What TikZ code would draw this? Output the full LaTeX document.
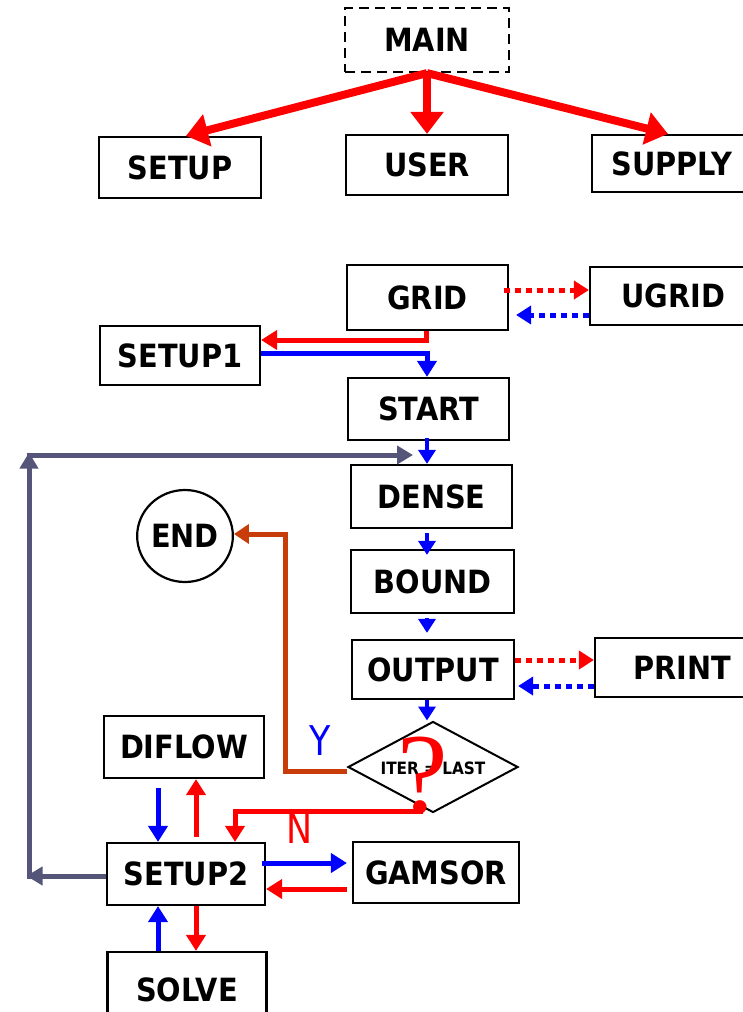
\documentclass[tikz,border=0pt]{standalone}
\usepackage{fontspec}
\usetikzlibrary{arrows.meta,shapes.geometric,calc}
\newfontfamily\boxfam[FakeStretch=0.9]{DejaVu Sans}
\newfontfamily\labfam[FakeStretch=0.85]{DejaVu Sans}
\newfontfamily\qfam{Liberation Serif}
\definecolor{myred}{RGB}{255,0,0}
\definecolor{myblue}{RGB}{0,0,255}
\definecolor{mygrey}{RGB}{85,85,122}
\definecolor{mybrown}{RGB}{200,60,10}
\tikzset{
  box/.style={draw, line width=2.2pt, inner sep=0pt, font=\boxfam\bfseries\fontsize{32}{34}\selectfont},
  bigred/.style={draw=myred, line width=8pt, -{Triangle[length=22pt,width=32pt]}},
  rarrow/.style={draw=myred, line width=5pt, -{Triangle[length=16pt,width=19pt]}},
  barrow/.style={draw=myblue, line width=5pt, -{Triangle[length=16pt,width=19pt]}},
  sbarrow/.style={draw=myblue, line width=4pt, -{Triangle[length=14pt,width=17pt]}},
  rdot/.style={draw=myred, line width=5pt, dash pattern=on 6pt off 5pt, -{Triangle[length=15pt,width=18pt]}},
  bdot/.style={draw=myblue, line width=5pt, dash pattern=on 6pt off 5pt, -{Triangle[length=15pt,width=18pt]}},
  greyline/.style={draw=mygrey, line width=5pt},
  greytip/.style={-{Triangle[length=16pt,width=18pt]}},
  brownline/.style={draw=mybrown, line width=5pt, -{Triangle[length=15pt,width=19pt]}},
  lab/.style={font=\labfam\fontsize{41}{44}\selectfont, inner sep=0pt}
}
\begin{document}
\begin{tikzpicture}[x=1pt,y=-1pt]
\clip (0,0) rectangle (743,1012);
\fill[white] (0,0) rectangle (743,1012);

% top block
\node[box, dash pattern=on 10pt off 6pt, minimum width=164pt, minimum height=64pt] (main) at (427,40) {MAIN};
\node[box, minimum width=162pt, minimum height=61pt] (setup) at (180,167.5) {SETUP};
\node[box, minimum width=162pt, minimum height=60pt] (user) at (427,165) {USER};
\node[box, minimum width=160pt, minimum height=57pt] (supply) at (672,163.5) {SUPPLY};

\draw[bigred] (main.south) -- ([xshift=6pt]setup.north);
\draw[bigred] (main.south) -- (user.north);
\draw[bigred] (main.south) -- ([xshift=-4pt]supply.north);

% grid block
\node[box, minimum width=161pt, minimum height=65pt] (grid) at (427.5,297.5) {GRID};
\node[box, minimum width=166pt, minimum height=58pt] (ugrid) at (673,296) {UGRID};
\node[box, minimum width=160pt, minimum height=59pt] (setup1) at (180,355.5) {SETUP1};
\node[box, minimum width=161pt, minimum height=62pt] (start) at (428.5,409) {START};
\node[box, minimum width=161pt, minimum height=63pt] (dense) at (431.5,496.5) {DENSE};
\node[box, minimum width=163pt, minimum height=63pt] (bound) at (432.5,581.5) {BOUND};
\node[box, minimum width=162pt, minimum height=59pt] (output) at (433,669.5) {OUTPUT};
\node[box, minimum width=174pt, minimum height=59pt] (print) at (682,667.5) {PRINT};
\node[box, ellipse, minimum width=90pt, minimum height=92pt] (end) at (185,536) {END};

\node[draw, line width=2pt, shape=diamond, inner sep=0pt, minimum width=170pt, minimum height=91pt] (decision) at (433,767) {};
\node[font=\boxfam\bfseries\fontsize{17}{19}\selectfont, inner sep=0pt] (itertext) at (433,768) {ITER = LAST};
\node[font=\qfam\fontsize{114}{114}\selectfont, text=myred, anchor=base, inner sep=0pt] (qmark) at (423,812) {?};

\node[box, minimum width=160pt, minimum height=62pt] (diflow) at (184,747) {DIFLOW};
\node[box, minimum width=158pt, minimum height=62pt] (setup2) at (186,874) {SETUP2};
\node[box, minimum width=166pt, minimum height=61pt] (gamsor) at (436,872.5) {GAMSOR};
\node[box, minimum width=159pt, minimum height=76pt] (solve) at (187,990) {SOLVE};

\node[lab, text=myblue] (ylab) at (320,741) {Y};
\node[lab, text=myred] (nlab) at (300,829) {N};

\coordinate (sp) at (427,0);

% GRID / UGRID
\draw[rdot] ([yshift=7.5pt,xshift=-5pt]grid.east) -- ([yshift=6pt]ugrid.west);
\draw[bdot] ([yshift=-19pt]ugrid.west) -- ([yshift=-17.5pt,xshift=7pt]grid.east);

% GRID -> SETUP1 -> START
\draw[rarrow] ([xshift=-1pt]grid.south) |- ([yshift=15.5pt]setup1.east);
\draw[barrow] ([yshift=2.5pt]setup1.east) -| (sp |- start.north);

% spine
\draw[sbarrow] ([yshift=3pt]sp |- start.south) -- (sp |- dense.north);
\draw[sbarrow] ([yshift=-4pt]sp |- dense.south) -- ([yshift=-6pt]sp |- bound.north);
\draw[sbarrow] ([yshift=-4pt]sp |- bound.south) -- ([yshift=6pt]sp |- output.north);
\draw[sbarrow] (sp |- output.south) -- (sp |- decision.north);

% OUTPUT / PRINT
\draw[rdot] ([yshift=9.5pt]output.east) -- ([yshift=7.5pt]print.west);
\draw[bdot] ([yshift=-18.5pt]print.west) -- ([yshift=-16.5pt,xshift=3pt]output.east);

% Y branch to END
\coordinate (bc) at (285,534);
\draw[brownline] ([yshift=-4pt]decision.west) -| (bc) -- ([yshift=2pt]end.east);

% N branch to SETUP2
\coordinate (qd) at (423,811);
\draw[rarrow] (qd) -| ([xshift=49pt]setup2.north);

% DIFLOW
\draw[barrow] ([xshift=-26pt,yshift=-9pt]diflow.south) -- ([xshift=-28pt]setup2.north);
\draw[rarrow] ([xshift=10pt,yshift=5pt]setup2.north) -- ([xshift=12pt]diflow.south);

% SOLVE
\draw[barrow] ([xshift=-29pt]solve.north) -- ([xshift=-28pt]setup2.south);
\draw[rarrow] ([xshift=10pt]setup2.south) -- ([xshift=9pt]solve.north);

% GAMSOR
\draw[barrow] ([yshift=11pt,xshift=-4pt]setup2.east) -- ([yshift=9.5pt,xshift=-5pt]gamsor.west);
\draw[rarrow] ([yshift=-16.5pt,xshift=-5pt]gamsor.west) -- ([yshift=-15pt]setup2.east);

% grey loop
\coordinate (gb) at (29,876);
\coordinate (gt) at (29,455);
\coordinate (gr) at (413,455);
\draw[greyline, greytip] ([yshift=-2pt]setup2.west) -- ([xshift=-2.5pt]gb);
\draw[greyline, greytip] ([yshift=-2.5pt]gb) -- ([yshift=2.5pt]gt);
\draw[greyline, greytip] ([xshift=-2.5pt]gt) -- (gr);
\end{tikzpicture}
\end{document}
